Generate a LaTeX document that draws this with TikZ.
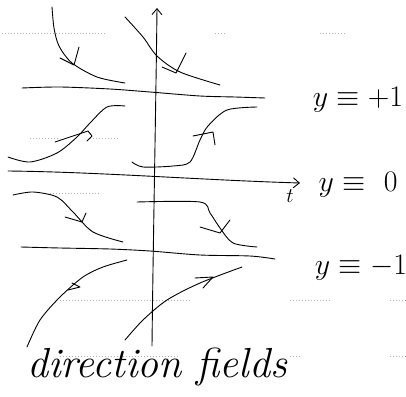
\documentclass[tikz,border=0pt]{standalone}
\usetikzlibrary{arrows.meta}
\begin{document}
\begin{tikzpicture}[x=1pt,y=-1pt,
  curve/.style={line width=0.9pt,line cap=round,line join=round},
  ruling/.style={gray!60,line width=0.5pt,dash pattern=on 1pt off 2pt},
  hand/.style={font=\itshape\fontsize{24}{24}\selectfont,inner sep=0pt}]
\useasboundingbox (0,0) rectangle (406,396);
% faint notebook ruling
\draw[ruling] (2,33) -- (105,33) (215,33) -- (225,33) (320,33) -- (345,33);
\draw[ruling] (30,138) -- (60,138) (90,138) -- (120,138);
\draw[ruling] (50,193) -- (100,193);
\draw[ruling] (60,300) -- (190,300) (290,300) -- (330,300) (390,300) -- (406,300);
\draw[ruling] (60,356) -- (180,356) (290,356) -- (300,356) (390,356) -- (406,356);
% axes
\coordinate (ybot) at (152,346);
\coordinate (ytop) at (157,8);
\draw[curve,-{Straight Barb[length=6pt,width=10pt]}] (ybot) .. controls (153,250) and (156,100) .. (ytop);
\coordinate (tl) at (8,171);
\coordinate (tr) at (300,183);
\draw[curve,-{Straight Barb[length=6pt,width=10pt]}] (tl) .. controls (100,172) and (200,180) .. (tr);
\node[hand,font=\itshape\fontsize{22}{22}\selectfont] (tlab) at (290,196) {$t$};
% equilibrium lines
\draw[curve] plot[smooth] coordinates {(22,88) (60,87) (110,89) (150,92) (200,96) (235,97) (265,98)};
\draw[curve] plot[smooth] coordinates {(21,247) (60,248) (110,249) (150,251) (200,255) (250,256) (275,259)};
% labels
\node[hand] (l1) at (358,100) {\scalebox{1.2}{$y\equiv +1$}};
\node[hand] (l0) at (358,185) {\scalebox{1.2}{$y\equiv\ 0$}};
\node[hand] (lm) at (361,268) {\scalebox{1.2}{$y\equiv -1$}};
\node[hand,font=\itshape\fontsize{42}{42}\selectfont] (df) at (157,367) {direction fields};
% solution curves above +1
\draw[curve] plot[smooth] coordinates {(52,7) (54,28) (59,46) (72,63) (97,77) (125,83)};
\draw[curve] (60,58) -- (74,65) -- (79,47);
\draw[curve] plot[smooth] coordinates {(125,17) (143,37) (157,56) (180,72) (220,85)};
\draw[curve] (162,67) -- (176,73) -- (186,53);
% between 0 and +1
\draw[curve] plot[smooth] coordinates {(8,157) (30,162) (57,153) (77,137) (90,123) (107,107) (125,106)};
\draw[curve] (55,142) -- (88,131) -- (92,136) -- (87,141);
\draw[curve] plot[smooth] coordinates {(132,162) (143,167) (173,166) (190,162) (200,140) (208,126) (227,110) (257,107)};
\draw[curve] (193,136) -- (213,132) -- (215,145);
% between -1 and 0
\draw[curve] plot[smooth] coordinates {(13,195) (33,192) (57,197) (73,212) (93,232) (123,242)};
\draw[curve] (65,217) -- (82,222) -- (86,213);
\draw[curve] plot[smooth] coordinates {(137,202) (200,202) (210,213) (220,228) (233,243) (257,247)};
\draw[curve] (200,227) -- (220,233) -- (230,220);
% below -1
\draw[curve] plot[smooth] coordinates {(27,347) (40,320) (60,297) (83,277) (103,267) (127,260)};
\draw[curve] (68,290) -- (80,287) -- (72,283);
\draw[curve] plot[smooth] coordinates {(125,340) (143,320) (167,300) (200,283) (242,267)};
\draw[curve] (195,278) -- (213,277) -- (203,288);
\end{tikzpicture}
\end{document}
